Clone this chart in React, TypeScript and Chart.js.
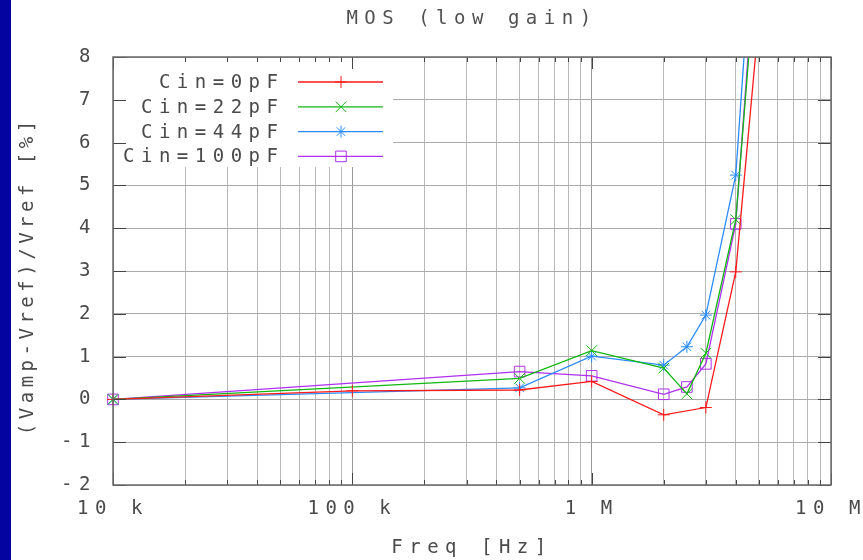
import { useEffect, useRef } from 'react';
import { Chart, registerables } from 'chart.js';

Chart.register(...registerables);

const TITLE = 'MOS (low gain)';
const X_TITLE = 'Freq [Hz]';
const Y_TITLE = '(Vamp-Vref)/Vref [%]';

// frequencies (Hz) and deviations (%)
const freqCin0 = [1e4, 1e5, 5e5, 1e6, 2e6, 3e6, 4e6, 5e6];
const valCin0 = [0, 0.2, 0.22, 0.42, -0.36, -0.19, 2.98, 8.9];
const freqCin22 = [1e4, 5e5, 1e6, 2e6, 2.5e6, 3e6, 4e6, 5e6];
const valCin22 = [0, 0.49, 1.14, 0.73, 0.13, 1.08, 4.2, 11];
const freqCin44 = [1e4, 5e5, 1e6, 2e6, 2.5e6, 3e6, 4e6, 5e6];
const valCin44 = [0, 0.27, 1.01, 0.8, 1.23, 1.97, 5.24, 13];
const freqCin100 = [1e4, 5e5, 1e6, 2e6, 2.5e6, 3e6, 4e6, 5e6];
const valCin100 = [0, 0.65, 0.55, 0.12, 0.29, 0.83, 4.1, 11.5];

const seriesLabels = ['Cin=0pF', 'Cin=22pF', 'Cin=44pF', 'Cin=100pF'];
const seriesColors = ['#ff1a1a', '#10b810', '#2a8cff', '#b030f0'];
const seriesMarkers = ['cross', 'crossRot', 'star', 'rect'];
const seriesRadius = [6, 7.5, 6, 7.5];

const xDecades = [1e4, 1e5, 1e6, 1e7];
const xDecadeLabels = ['10 k', '100 k', '1 M', '10 M'];
const xMinorMultipliers = [2, 3, 4, 5, 6, 7, 8, 9];
const Y_MIN = -2;
const Y_MAX = 8;

const FONT_FAMILY = "'DejaVu Sans Mono', 'Liberation Mono', monospace";
const SPACING = 6.5;
const TEXT_COLOR = '#4a4a4a';

function buildXTicks() {
  const ticks: { value: number; major: boolean }[] = [];
  xDecades.forEach((d, i) => {
    ticks.push({ value: d, major: true });
    if (i < xDecades.length - 1) {
      xMinorMultipliers.forEach((m) => ticks.push({ value: d * m, major: false }));
    }
  });
  return ticks;
}

function drawMarker(ctx: CanvasRenderingContext2D, style: string, x: number, y: number, r: number, color: string) {
  ctx.save();
  ctx.strokeStyle = color;
  ctx.lineWidth = 1;
  ctx.beginPath();
  if (style === 'cross' || style === 'star') {
    ctx.moveTo(x - r, y); ctx.lineTo(x + r, y);
    ctx.moveTo(x, y - r); ctx.lineTo(x, y + r);
  }
  if (style === 'crossRot' || style === 'star') {
    const d = r * Math.SQRT1_2;
    ctx.moveTo(x - d, y - d); ctx.lineTo(x + d, y + d);
    ctx.moveTo(x - d, y + d); ctx.lineTo(x + d, y - d);
  }
  if (style === 'rect') {
    const h = r * Math.SQRT1_2;
    ctx.rect(x - h, y - h, 2 * h, 2 * h);
  }
  ctx.stroke();
  ctx.restore();
}

const spacingPlugin = {
  id: 'letterSpacing',
  beforeUpdate(chart: any) { chart.ctx.letterSpacing = SPACING + 'px'; },
  beforeLayout(chart: any) { chart.ctx.letterSpacing = SPACING + 'px'; },
  beforeDraw(chart: any) { chart.ctx.letterSpacing = SPACING + 'px'; },
};

const framePlugin = {
  id: 'frame',
  afterDatasetsDraw(chart: any) {
    const ctx: CanvasRenderingContext2D = chart.ctx;
    const { left, right, top, bottom } = chart.chartArea;
    const xs = chart.scales.x;
    const ys = chart.scales.y;
    ctx.save();
    ctx.letterSpacing = SPACING + 'px';
    // legend box
    ctx.fillStyle = '#ffffff';
    ctx.fillRect(left + 1, top + 1, 279, 109);
    ctx.font = `19px ${FONT_FAMILY}`;
    ctx.textAlign = 'right';
    ctx.textBaseline = 'middle';
    seriesLabels.forEach((lab, i) => {
      const y = top + 25 + i * 24.8;
      ctx.fillStyle = TEXT_COLOR;
      ctx.fillText(lab, left + 165 + SPACING, y + 1);
      ctx.strokeStyle = seriesColors[i];
      ctx.lineWidth = 1.3;
      ctx.beginPath();
      ctx.moveTo(left + 185, y);
      ctx.lineTo(left + 270, y);
      ctx.stroke();
      drawMarker(ctx, seriesMarkers[i], left + 228, y, seriesRadius[i], seriesColors[i]);
    });
    // inner tick marks
    ctx.strokeStyle = '#444';
    ctx.lineWidth = 1;
    ctx.beginPath();
    xs.ticks.forEach((t: any) => {
      const px = Math.round(xs.getPixelForValue(t.value)) + 0.5;
      const len = t.major ? 12 : 5;
      ctx.moveTo(px, bottom); ctx.lineTo(px, bottom - len);
      ctx.moveTo(px, top); ctx.lineTo(px, top + len);
    });
    ys.ticks.forEach((t: any) => {
      const py = Math.round(ys.getPixelForValue(t.value)) + 0.5;
      ctx.moveTo(left, py); ctx.lineTo(left + 13, py);
      ctx.moveTo(right, py); ctx.lineTo(right - 13, py);
    });
    ctx.stroke();
    // border
    ctx.strokeStyle = '#6a6a6a';
    ctx.lineWidth = 1.5;
    ctx.strokeRect(left, top, right - left, bottom - top);
    // y-axis title (tighter spacing than other text)
    ctx.letterSpacing = '4.5px';
    ctx.translate(28, (top + bottom) / 2 + 7);
    ctx.rotate(-Math.PI / 2);
    ctx.textAlign = 'center';
    ctx.textBaseline = 'middle';
    ctx.fillStyle = TEXT_COLOR;
    ctx.fillText(Y_TITLE, 2.25, 0);
    ctx.restore();
  },
};

function toPoints(xs: number[], ys: number[]) {
  return xs.map((x, i) => ({ x, y: ys[i] }));
}

export default function App() {
  const canvasRef = useRef<HTMLCanvasElement | null>(null);

  useEffect(() => {
    const canvas = canvasRef.current;
    if (!canvas) return;
    const font = { family: FONT_FAMILY, size: 19, weight: 'normal' as const, lineHeight: 1.2 };
    const seriesData = [
      toPoints(freqCin0, valCin0),
      toPoints(freqCin22, valCin22),
      toPoints(freqCin44, valCin44),
      toPoints(freqCin100, valCin100),
    ];
    const chart = new Chart(canvas, {
      type: 'line',
      data: {
        datasets: seriesData.map((d, i) => ({
          label: seriesLabels[i],
          data: d,
          borderColor: seriesColors[i],
          backgroundColor: 'transparent',
          borderWidth: 1.3,
          pointStyle: seriesMarkers[i] as any,
          pointRadius: seriesRadius[i],
          pointBorderColor: seriesColors[i],
          pointBackgroundColor: 'transparent',
          pointBorderWidth: 1,
          tension: 0,
          fill: false,
          clip: { left: 12, right: 0, top: 0, bottom: 0 } as any,
        })),
      },
      options: {
        responsive: false,
        animation: false,
        devicePixelRatio: 1,
        layout: { padding: { left: 0, right: 32, top: 0, bottom: 0 } },
        plugins: {
          legend: { display: false },
          tooltip: { enabled: false },
          title: {
            display: true,
            fullSize: false,
            text: TITLE,
            color: '#505050',
            font,
            padding: { top: 8, bottom: 26.2 },
          },
        },
        scales: {
          x: {
            type: 'logarithmic',
            min: 1e4,
            max: 1e7,
            afterBuildTicks: (s: any) => { s.ticks = buildXTicks(); },
            afterFit: (s: any) => { s.height = 75; s.paddingLeft = 0; s.paddingRight = 0; },
            ticks: {
              autoSkip: false,
              maxRotation: 0,
              minRotation: 0,
              padding: 13,
              color: TEXT_COLOR,
              font,
              callback: (v: any) => {
                const idx = xDecades.indexOf(Number(v));
                return idx >= 0 ? xDecadeLabels[idx] : '';
              },
            },
            grid: {
              drawTicks: false,
              lineWidth: 1,
              color: (c: any) => (c.tick && c.tick.major ? '#999999' : '#b8b8b8'),
            },
            border: { display: false },
            title: { display: true, text: X_TITLE, color: TEXT_COLOR, font, padding: { top: 0, bottom: 1 } },
          },
          y: {
            type: 'linear',
            min: Y_MIN,
            max: Y_MAX,
            afterFit: (s: any) => { s.width = 113; s.paddingTop = 0; s.paddingBottom = 0; },
            ticks: { stepSize: 1, padding: 16, color: TEXT_COLOR, font },
            grid: { drawTicks: false, lineWidth: 1, color: '#aaaaaa' },
            border: { display: false },
            title: { display: false, text: Y_TITLE },
          },
        },
      },
      plugins: [spacingPlugin, framePlugin],
    });
    return () => chart.destroy();
  }, []);

  return (
    <div style={{ position: 'absolute', left: 0, top: 0, width: 863, height: 560, background: '#ffffff' }}>
      <canvas ref={canvasRef} width={863} height={560} style={{ display: 'block' }} />
      <div style={{ position: 'absolute', left: 0, top: 0, width: 11, height: 560, background: '#0404a0' }} />
    </div>
  );
}
